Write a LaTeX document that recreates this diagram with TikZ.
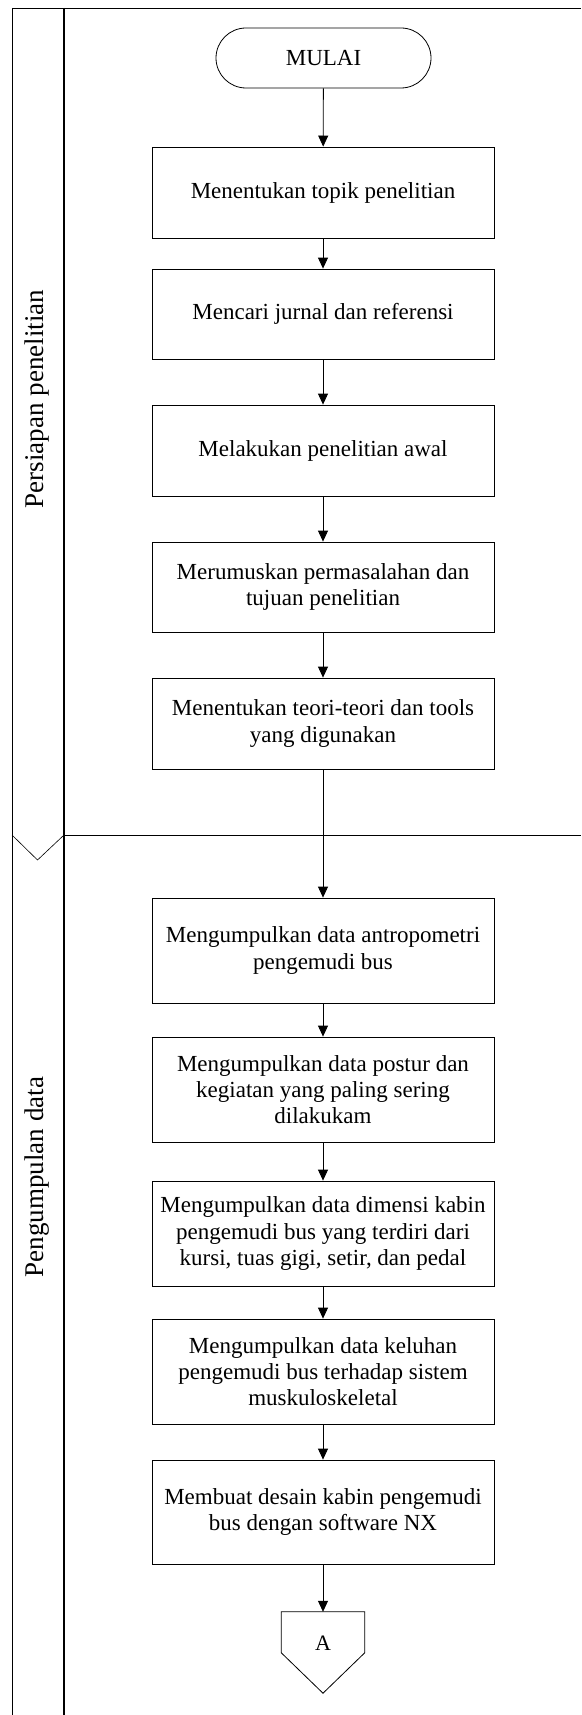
\documentclass[tikz,border=0pt]{standalone}
\usepackage{fontspec}
\setmainfont{Liberation Serif}
\usetikzlibrary{arrows.meta}
\begin{document}
\begin{tikzpicture}[x=1pt,y=-1pt,
  lane/.style={line width=0.9pt, draw=black},
  stepbox/.style={draw, line width=0.8pt, minimum width=342pt, minimum height=#1, align=center, inner sep=0pt, font=\fontsize{23}{26.3}\selectfont},
  term/.style={draw, line width=0.8pt, minimum width=215pt, minimum height=60pt, rounded corners=30pt, inner sep=0pt, font=\fontsize{23}{26.3}\selectfont},
  lanelabel/.style={rotate=90, inner sep=0pt, font=\fontsize{27}{28}\selectfont},
  flow/.style={line width=0.8pt, -{Triangle[width=10pt,length=11pt]}}]
% canvas
\fill[white] (0,0) rectangle (581,1715);
\useasboundingbox (0,0) rectangle (581,1715);
% swimlanes
\coordinate (tl) at (12,8);
\coordinate (tr) at (581,8);
\coordinate (bl) at (12,1715);
\coordinate (dt) at (64,8);
\coordinate (db) at (64,1715);
\coordinate (sl) at (64,835);
\coordinate (sr) at (581,835);
\coordinate (cl) at (12,835);
\coordinate (cp) at (37.5,860);
\draw[lane] (tl) -- (tr);
\draw[lane, line width=0.6pt] (tl) -- (bl);
\draw[lane, line width=1.1pt] (dt) -- (db);
\draw[lane] (sl) -- (sr);
\draw[lane, line width=0.6pt] (cl) -- (cp) -- (sl);
\node[lanelabel] (lab1) at (37,399) {Persiapan penelitian};
\node[lanelabel] (lab2) at (37,1177) {Pengumpulan data};
% nodes
\node[term] (start) at (323.5,58) {MULAI};
\node[stepbox=91pt] (b1) at (323,192.5) {Menentukan topik penelitian};
\node[stepbox=90pt] (b2) at (323,314) {Mencari jurnal dan referensi};
\node[stepbox=91pt] (b3) at (323,450.5) {Melakukan penelitian awal};
\node[stepbox=90pt] (b4) at (323,587) {Merumuskan permasalahan dan\\tujuan penelitian};
\node[stepbox=91pt] (b5) at (323,723.5) {Menentukan teori-teori dan tools\\yang digunakan};
\node[stepbox=105pt] (b6) at (323,950.5) {Mengumpulkan data antropometri\\pengemudi bus};
\node[stepbox=105pt] (b7) at (323,1089.5) {Mengumpulkan data postur dan\\kegiatan yang paling sering\\dilakukam};
\node[stepbox=105pt] (b8) at (323,1233.5) {Mengumpulkan data dimensi kabin\\pengemudi bus yang terdiri dari\\kursi, tuas gigi, setir, dan pedal};
\node[stepbox=105pt] (b9) at (323,1371.5) {Mengumpulkan data keluhan\\pengemudi bus terhadap sistem\\muskuloskeletal};
\node[stepbox=104pt] (b10) at (323,1512) {Membuat desain kabin pengemudi\\bus dengan software NX};
% off-page connector
\node[minimum width=83pt, minimum height=81pt, inner sep=0pt] (A) at (323,1652.5) {};
\draw[line width=0.8pt] (A.north west) -- (A.north east) -- ++(0,41) -- (A.south) -- ([yshift=-41pt]A.north west) -- cycle;
\node[inner sep=0pt, font=\fontsize{22}{24}\selectfont] (Alab) at (323,1643) {A};
% connectors
\draw[flow] (start) -- (b1);
\draw[flow] (b1) -- (b2);
\draw[flow] (b2) -- (b3);
\draw[flow] (b3) -- (b4);
\draw[flow] (b4) -- (b5);
\draw[flow] (b5) -- (b6);
\draw[flow] (b6) -- (b7);
\draw[flow] (b7) -- (b8);
\draw[flow] (b8) -- (b9);
\draw[flow] (b9) -- (b10);
\draw[flow] (b10) -- (A.north);
\end{tikzpicture}
\end{document}
